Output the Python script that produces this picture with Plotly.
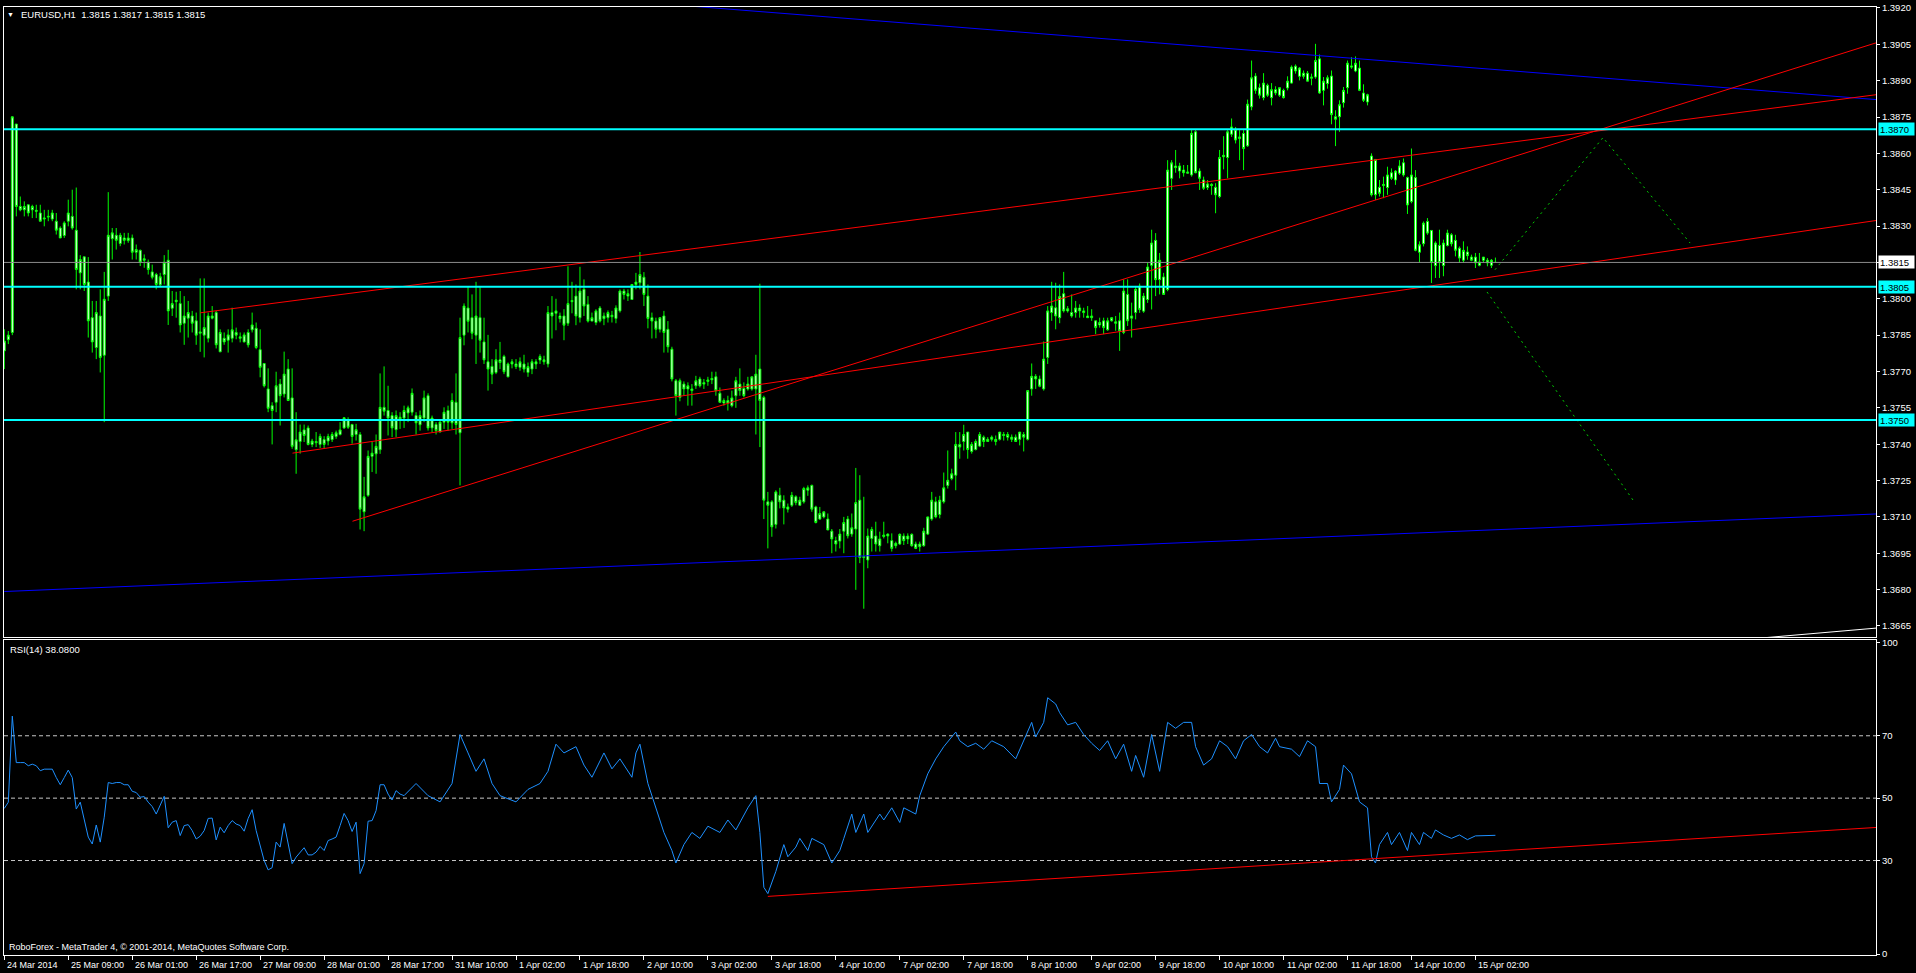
import plotly.graph_objects as go

# ---------------- DATA ----------------
# EURUSD H1 candles, values in pips above 1.3600
opens_p = [
178.5,183.1,186.1,272.1,238.1,236.7,238.8,236.7,236.5,235.4,
232.9,233.7,232.9,232.0,229.2,226.1,232.0,234.0,228.3,210.7,
217.3,206.9,192.2,179.9,192.9,176.7,201.1,224.8,226.2,222.8,
225.1,224.0,225.1,219.2,220.0,215.9,215.1,211.1,210.0,205.8,
210.0,215.9,196.1,198.8,198.0,189.9,192.0,192.9,190.9,185.8,
185.0,183.7,192.0,194.3,178.1,183.7,182.9,183.7,186.1,184.3,
182.2,186.1,187.2,187.8,179.0,173.3,162.8,155.9,157.3,164.8,
160.7,171.0,159.1,137.7,141.1,145.9,146.7,139.9,141.1,139.9,
141.9,141.3,141.9,143.2,144.0,146.7,149.8,148.1,144.0,144.0,
112.1,118.9,135.0,136.0,137.7,155.2,153.9,151.8,146.0,151.1,
150.8,152.9,153.2,151.8,148.0,150.8,160.0,146.7,148.1,145.0,
149.1,153.9,148.8,157.3,144.7,185.0,196.2,192.2,185.0,192.2,
182.2,174.0,172.1,169.6,174.8,176.2,167.8,173.1,173.1,171.7,
173.1,169.6,171.0,174.0,174.7,174.8,173.1,194.3,194.0,192.9,
192.9,189.9,198.8,201.1,192.2,203.9,197.7,190.8,190.2,196.2,
191.8,192.2,193.2,191.9,195.0,203.2,201.1,199.7,205.9,206.6,
208.9,201.1,192.2,190.8,187.4,192.9,187.4,179.2,166.2,159.3,
164.8,162.8,162.8,164.1,166.9,164.8,165.9,166.6,167.8,161.0,
157.0,158.0,155.9,160.0,164.8,163.0,162.8,162.8,162.8,171.0,
159.3,116.2,116.2,106.9,118.9,116.9,113.2,114.8,118.3,114.8,
116.2,121.0,123.0,114.1,109.1,110.0,109.1,104.1,100.2,100.0,
104.1,109.1,102.9,105.0,116.9,93.2,92.2,101.1,102.1,98.1,
101.9,102.9,100.2,98.1,98.8,102.1,100.9,102.8,98.8,97.7,
98.1,102.9,109.1,116.2,111.0,116.2,123.0,125.8,127.2,139.9,
141.1,145.0,137.0,137.8,139.2,142.9,141.1,142.0,142.0,142.0,
144.0,142.9,142.9,142.9,142.0,144.0,142.0,162.8,168.0,166.9,
162.8,175.8,194.3,196.3,192.2,202.1,195.0,194.3,194.3,196.2,
195.0,192.9,192.2,190.9,189.2,190.9,187.2,190.9,190.5,190.9,
186.1,201.8,192.0,194.3,205.2,194.9,199.7,213.8,224.1,207.9,
209.0,203.8,249.7,254.8,252.7,253.1,251.8,251.1,268.9,252.7,
249.0,245.9,247.2,246.0,242.2,258.6,258.3,267.9,269.6,266.1,
268.2,263.1,279.2,291.9,287.1,283.0,288.1,283.0,286.3,284.0,
286.0,287.0,289.0,296.0,291.8,293.1,293.1,291.0,291.5,299.0,
286.0,288.8,291.9,275.1,275.1,280.9,287.1,296.1,294.0,295.2,
284.9,281.2,258.9,242.9,246.0,246.7,245.9,252.0,249.0,251.8,
256.1,250.0,240.1,250.0,219.2,222.7,231.9,228.2,213.7,222.0,
213.7,222.0,226.4,224.1,220.9,215.9,219.3,217.2,217.2,213.8,
215.9,215.9,213.8,215.0]
highs_p = [
187.4,186.7,275.1,272.1,242.2,240.2,238.8,238.8,238.8,238.8,
236.7,236.7,236.7,235.4,229.9,232.0,240.9,245.0,245.9,218.0,
217.3,217.2,199.1,199.1,203.9,211.1,244.0,229.2,229.2,227.2,
227.2,227.2,226.5,222.4,220.3,218.3,216.2,214.1,210.7,210.7,
218.0,220.2,203.2,202.9,203.2,201.1,199.1,195.0,194.3,208.4,
208.4,194.3,197.0,195.0,187.4,186.1,187.4,196.3,188.1,186.1,
186.1,187.4,194.3,190.2,187.4,173.5,171.3,157.3,169.9,166.9,
178.2,175.1,171.3,153.2,148.1,148.1,147.7,142.2,145.0,144.3,
143.3,144.3,145.0,145.6,149.1,151.1,151.1,148.4,148.4,145.0,
126.5,137.4,140.9,144.0,169.2,172.1,164.1,153.2,153.9,153.2,
155.9,155.9,163.0,153.2,153.9,162.1,161.0,151.8,149.1,149.7,
155.2,155.9,161.0,169.2,192.2,198.1,205.2,201.8,207.0,204.8,
192.2,185.1,175.1,179.2,182.2,176.9,173.7,175.1,175.1,175.8,
176.9,173.7,175.1,175.1,177.1,176.5,197.0,201.1,200.0,194.3,
195.7,213.4,207.0,205.9,213.2,208.0,201.1,194.3,195.7,197.0,
194.3,195.2,195.0,197.3,203.9,204.1,203.9,205.9,210.7,219.3,
211.0,205.9,194.3,192.2,192.2,195.0,190.8,180.2,166.9,167.1,
165.9,165.5,164.8,168.2,167.8,166.9,167.8,169.9,169.9,163.4,
158.9,160.0,162.1,167.8,171.3,165.5,167.8,167.8,176.9,206.2,
160.0,120.3,116.9,121.0,122.0,118.9,115.5,120.3,118.9,118.3,
122.4,123.0,123.3,114.6,114.1,112.1,111.4,105.0,101.8,105.0,
110.0,110.4,111.4,130.2,127.2,118.3,105.2,105.9,108.0,103.9,
108.0,103.2,103.2,99.8,103.2,103.2,103.2,103.2,99.8,99.8,
105.5,110.0,120.3,118.3,118.7,128.3,137.4,129.9,145.0,145.0,
148.0,145.0,140.9,142.0,145.0,143.6,142.9,143.6,143.6,145.0,
145.0,145.0,144.0,144.0,145.0,145.0,162.1,173.3,168.9,168.3,
182.4,197.0,207.0,206.6,205.9,211.1,197.0,201.8,199.1,197.7,
196.3,197.0,195.7,190.9,192.2,192.2,192.2,192.2,192.9,194.3,
208.0,208.0,198.4,205.3,206.3,202.4,214.8,228.5,227.1,218.9,
210.7,257.2,257.2,261.4,256.1,255.2,255.2,269.6,269.6,253.8,
250.4,249.0,247.7,247.7,261.4,267.1,269.6,274.4,270.9,269.6,
269.6,282.2,298.3,293.1,288.8,293.1,288.8,289.0,287.7,287.1,
286.7,291.8,296.3,296.7,295.6,294.2,294.0,292.9,305.2,300.8,
291.5,292.2,294.2,277.8,281.9,287.4,298.3,299.7,300.0,298.3,
288.5,284.6,260.0,257.5,249.0,250.4,254.5,253.8,253.1,257.2,
257.9,250.4,262.0,253.1,223.7,231.9,233.3,228.2,223.7,228.5,
224.4,228.5,227.1,226.4,221.6,223.7,221.6,218.2,218.9,218.9,
217.2,216.8,216.4,217.0]
lows_p = [
171.0,181.3,185.0,234.0,236.1,234.0,234.0,233.3,233.3,232.0,
229.9,232.0,232.0,226.5,225.1,225.1,229.9,228.5,203.9,203.9,
203.2,184.0,177.8,175.1,169.6,149.1,199.1,216.2,220.3,221.7,
222.4,223.1,216.2,216.2,213.5,212.8,210.0,208.0,203.9,205.2,
205.9,189.2,192.9,192.2,186.1,181.0,184.0,186.1,181.0,178.1,
175.8,182.0,191.5,179.5,178.1,181.0,177.8,182.0,183.3,182.0,
182.0,179.9,186.1,179.2,167.6,163.4,153.2,139.9,153.2,147.7,
159.3,158.0,138.1,127.8,136.1,140.9,139.5,138.8,138.8,138.4,
138.4,139.5,140.9,142.2,143.6,146.3,146.3,140.2,141.5,104.8,
104.1,118.3,128.5,127.8,136.0,151.8,143.6,142.9,142.9,146.3,
146.7,149.1,151.8,144.0,145.6,149.1,145.6,145.0,144.0,145.0,
146.3,145.6,146.3,144.0,123.0,180.8,186.1,183.3,173.1,177.8,
173.1,162.1,164.8,168.9,171.0,168.9,167.6,171.3,171.0,170.3,
169.6,167.8,168.9,171.0,173.1,172.8,171.7,183.6,187.0,190.2,
182.9,188.8,194.0,189.1,190.2,192.9,190.2,190.8,189.1,190.2,
189.1,190.2,190.2,189.9,194.3,199.7,199.1,199.7,203.9,203.9,
197.0,187.8,183.6,183.7,186.1,177.8,177.8,165.9,151.8,157.7,
160.0,155.9,155.9,162.8,163.4,162.8,164.1,164.8,160.0,157.0,
155.9,153.9,155.2,155.0,160.0,159.3,162.1,162.1,144.0,138.8,
109.1,97.0,101.8,105.2,113.5,106.9,111.8,114.1,114.8,114.6,
115.5,118.7,112.1,107.3,108.7,109.4,104.6,95.0,95.7,97.0,
95.0,101.1,101.8,79.9,90.9,72.1,88.8,95.7,95.7,95.7,
101.1,99.1,95.7,97.0,98.4,98.4,98.8,97.7,96.7,95.7,
97.7,102.5,108.4,109.4,109.4,115.5,121.7,125.1,121.0,134.0,
137.4,134.0,136.1,137.4,138.8,138.8,140.9,141.1,139.5,141.5,
141.5,141.5,140.9,140.9,139.5,137.0,141.5,160.0,162.8,163.5,
162.1,173.1,190.9,187.4,189.9,194.3,194.3,192.2,192.2,192.2,
192.2,192.2,190.9,185.4,188.1,185.4,186.8,190.6,186.8,178.5,
185.4,188.8,184.0,191.5,194.2,194.2,198.3,195.6,201.1,201.8,
201.8,203.1,244.9,252.0,249.7,250.4,251.8,250.4,251.8,244.9,
244.9,244.9,242.9,235.3,241.5,253.4,249.7,266.8,264.1,257.2,
253.1,262.7,277.8,284.6,282.6,281.9,283.3,279.8,284.0,283.3,
282.6,286.0,288.8,292.9,290.1,290.8,289.7,288.1,290.8,284.6,
279.8,286.7,272.0,263.0,268.9,278.9,284.6,294.9,293.5,285.7,
281.2,279.8,242.2,240.8,242.2,241.5,242.9,249.0,247.0,251.1,
250.4,235.0,239.4,219.6,215.0,221.6,226.4,206.5,208.6,208.6,
209.3,221.6,221.6,217.5,214.8,214.8,216.1,215.5,212.7,213.4,
214.8,213.4,212.7,215.0]
closes_p = [
182.6,185.0,275.1,238.1,236.7,238.1,235.4,238.1,236.1,232.0,
233.3,234.0,235.4,228.3,225.1,231.3,235.4,229.2,212.1,216.2,
205.9,190.9,182.2,194.3,175.8,199.8,226.2,227.2,224.1,226.2,
224.1,225.1,219.2,220.3,215.1,216.5,212.1,208.9,205.9,209.1,
215.1,195.0,198.0,199.4,189.2,192.9,194.3,189.9,185.0,186.3,
188.1,192.9,192.9,181.0,186.1,182.2,185.1,187.2,185.0,183.7,
185.1,181.0,189.2,179.9,171.7,164.1,154.8,153.9,164.1,160.0,
168.9,158.0,139.1,141.8,145.0,143.6,139.9,141.3,140.6,143.2,
139.9,143.2,144.0,144.7,145.9,150.9,147.0,143.2,146.0,113.2,
118.3,135.0,136.3,139.1,155.2,153.6,150.8,146.7,151.8,150.2,
153.9,155.0,161.0,148.8,151.8,159.1,146.7,150.8,145.6,149.1,
153.2,149.1,158.0,148.1,184.0,197.0,190.7,185.8,192.9,182.9,
174.8,171.0,168.9,174.8,173.7,169.9,173.1,174.0,172.0,174.0,
171.0,172.0,174.0,173.1,176.2,174.0,194.3,192.9,195.0,191.8,
189.1,198.0,199.3,192.9,203.2,197.0,190.8,192.2,195.0,190.8,
192.9,194.3,192.6,196.2,203.2,201.8,202.1,205.9,206.9,210.0,
201.8,191.9,190.8,187.4,192.2,186.1,180.2,166.9,160.0,166.2,
162.8,164.1,162.1,166.2,164.1,165.4,166.5,167.1,162.1,157.3,
158.0,157.0,159.1,166.2,162.1,160.0,164.8,167.8,168.9,158.0,
116.9,114.8,105.9,120.3,116.2,113.7,114.1,118.9,115.9,116.9,
121.7,122.0,113.2,107.7,111.4,112.1,104.6,100.9,98.8,102.9,
107.7,102.2,105.5,115.9,93.2,93.6,102.1,104.8,98.8,100.9,
102.5,102.1,97.0,99.1,102.8,100.2,102.1,98.1,97.0,98.8,
104.1,110.0,116.9,110.0,116.9,122.0,125.1,127.8,139.9,138.8,
144.0,137.8,139.9,141.1,144.0,141.1,142.0,142.9,141.1,145.0,
143.6,144.0,142.0,141.1,145.0,142.9,162.1,168.0,166.9,163.9,
175.1,195.0,197.0,192.9,200.9,195.0,195.9,192.9,196.2,195.0,
194.3,192.2,192.9,188.1,190.2,188.1,190.9,192.2,189.9,186.8,
203.2,190.9,192.9,203.9,195.6,201.1,213.1,223.0,207.9,215.9,
201.8,253.1,256.1,254.1,254.8,252.0,252.3,268.2,252.0,249.7,
245.6,247.4,246.7,242.9,258.3,259.2,268.9,270.9,265.5,266.8,
262.0,280.3,291.2,286.0,284.0,289.0,284.0,286.3,284.9,287.1,
283.0,289.8,295.6,294.0,295.2,291.8,289.8,291.5,298.3,284.9,
289.8,291.2,276.0,274.1,280.1,286.0,297.2,295.6,297.2,286.0,
281.9,284.2,242.9,257.5,243.5,247.2,251.1,249.7,252.7,254.8,
251.1,238.7,251.1,220.0,222.3,231.2,227.1,215.0,223.0,215.0,
223.0,227.1,222.7,220.0,216.8,220.0,217.8,215.9,214.8,215.2,
217.2,214.8,215.9,215.0]

# RSI(14) line, read at bar positions
rsi_bar = list(range(100)) + [
100,103,106,109,112,114,116,118,120,122,124,128,131,134,136,138,140,143,145,147,
150,152,154,157,158,159,161,163,165,167,168,170,172,174,176,179,181,183,186,188,
189,190,191,193,195,196,198,199,201,202,205,207,209,210,212,213,215,216,219,220,
222,224,225,228,229,231,233,235,238,239,241,243,245,247,250,253,255,256,257,258,
260,261,263,264,266,268,270,272,274,276,278,280,282,283,285,287,289,291,293,295,
297,298,300,302,304,306,308,310,312,314,316,318,319,322,324,326,328,329,331,332,
334,335,337,339,341,342,343,344,346,347,349,351,352,354,355,357,358,360,362,364,
366,368,373]
rsi_val = [
46.7,48.7,76.3,61.4,61.4,61.4,60.4,60.9,60.4,58.8,
59.3,59.3,59.3,56.6,54.3,56.6,59.0,56.6,46.5,48.7,
42.8,37.5,35.3,41.4,35.9,43.9,55.0,54.7,55.0,55.0,
54.3,54.3,52.2,51.8,50.3,50.5,48.7,47.3,44.9,47.6,
50.6,40.5,42.3,42.8,38.0,41.2,41.5,39.6,36.9,37.8,
39.6,43.5,43.6,36.6,40.7,38.9,41.2,42.8,41.7,41.2,
39.4,43.5,46.3,39.6,34.3,30.0,27.0,27.7,35.9,34.3,
41.9,35.3,29.0,31.1,32.7,34.1,31.8,31.8,32.7,34.5,
33.2,36.4,36.9,37.5,41.2,45.1,42.8,39.3,42.3,25.8,
29.0,42.6,42.8,46.0,54.3,54.3,51.3,49.4,52.4,51.3,
50.8,54.7,50.8,48.8,54.7,70.4,64.5,58.6,62.6,54.7,50.8,48.8,52.8,54.7,58.6,67.3,64.5,66.5,60.6,56.7,
64.5,59.4,62.6,56.7,64.5,67.3,54.7,46.9,39.0,33.2,29.2,35.1,39.0,37.1,41.0,39.0,43.0,39.8,46.9,50.8,
39.0,21.4,19.4,26.5,35.1,31.2,34.3,37.1,33.2,37.1,35.1,29.2,33.2,37.1,44.9,39.0,44.9,39.0,44.9,43.0,
46.9,42.2,46.9,44.9,50.8,57.8,62.6,66.5,71.2,68.4,66.5,67.6,65.7,68.4,66.5,62.6,68.4,71.2,74.3,69.6,
74.3,82.2,80.2,77.4,73.5,74.3,70.4,67.6,65.3,68.4,62.6,67.3,58.6,63.7,56.7,70.4,58.6,74.3,72.4,74.3,
74.3,66.5,60.6,62.6,68.4,66.5,62.6,68.4,70.4,66.5,64.5,69.2,66.5,65.7,63.3,68.4,66.5,54.7,54.7,48.8,
52.8,60.6,57.8,48.8,46.9,31.2,29.2,35.1,39.0,35.1,39.0,33.2,39.0,35.1,39.0,37.1,39.8,38.2,37.1,38.2,
36.7,37.9,38.08]

# time axis labels (one every 16 bars)
tick_bars = [0,16,32,48,64,80,96,112,128,144,160,176,192,208,224,240,256,272,288,304,320,336,352,368]
tick_text = ["24 Mar 2014","25 Mar 09:00","26 Mar 01:00","26 Mar 17:00","27 Mar 09:00",
             "28 Mar 01:00","28 Mar 17:00","31 Mar 10:00","1 Apr 02:00","1 Apr 18:00",
             "2 Apr 10:00","3 Apr 02:00","3 Apr 18:00","4 Apr 10:00","7 Apr 02:00",
             "7 Apr 18:00","8 Apr 10:00","9 Apr 02:00","9 Apr 18:00","10 Apr 10:00",
             "11 Apr 02:00","11 Apr 18:00","14 Apr 10:00","15 Apr 02:00"]
price_ticks = [1.3665,1.3680,1.3695,1.3710,1.3725,1.3740,1.3755,1.3770,1.3785,1.3800,
               1.3815,1.3830,1.3845,1.3860,1.3875,1.3890,1.3905,1.3920]
rsi_ticks = [0,30,50,70,100]

# chart objects
h_levels = [1.3870, 1.3805, 1.3750]
bid_price = 1.3815
# trendlines: (bar0, price0, bar1, price1)
blue_lines = [(0, 1.39431, 468.2, 1.38822), (0, 1.36792, 468.2, 1.37112)]
red_lines = [(87.1, 1.37082, 468.2, 1.39056), (72.1, 1.37363, 468.2, 1.38323),
             (49.0, 1.37942, 468.2, 1.38842)]
white_line = (400, 1.36544, 468.2, 1.36641)
proj1_x = [372.9, 399.9, 421.7]
proj1_y = [1.38120, 1.38665, 1.38230]
proj2_x = [370.9, 407.9]
proj2_y = [1.38028, 1.37158]
rsi_trend = (191, 18.5, 468.2, 40.6)
rsi_levels = [70, 50, 30]

# ---------------- FIGURE ----------------
BASE = 1.36
to_price = lambda arr: [round(BASE + v / 10000.0, 5) for v in arr]
o, h, l, c = to_price(opens_p), to_price(highs_p), to_price(lows_p), to_price(closes_p)
bars = list(range(len(o)))

FONT = "Liberation Sans, Arial, sans-serif"
LIME = "#00FF00"
fig = go.Figure()

fig.add_trace(go.Candlestick(
    x=bars, open=o, high=h, low=l, close=c, xaxis="x", yaxis="y",
    increasing=dict(line=dict(color=LIME, width=1), fillcolor="#FFFFFF"),
    decreasing=dict(line=dict(color=LIME, width=1), fillcolor="#FFFFFF"),
    whiskerwidth=0, hoverinfo="none", showlegend=False))

for (x0, y0, x1, y1) in blue_lines:
    fig.add_trace(go.Scatter(x=[x0, x1], y=[y0, y1], mode="lines", xaxis="x", yaxis="y",
                             line=dict(color="#0000FF", width=1), hoverinfo="skip"))
for (x0, y0, x1, y1) in red_lines:
    fig.add_trace(go.Scatter(x=[x0, x1], y=[y0, y1], mode="lines", xaxis="x", yaxis="y",
                             line=dict(color="#FF0000", width=1), hoverinfo="skip"))
fig.add_trace(go.Scatter(x=[white_line[0], white_line[2]], y=[white_line[1], white_line[3]],
                         mode="lines", xaxis="x", yaxis="y",
                         line=dict(color="#FFFFFF", width=1), hoverinfo="skip"))
fig.add_trace(go.Scatter(x=proj1_x, y=proj1_y, mode="lines", xaxis="x", yaxis="y",
                         line=dict(color="#00D000", width=1, dash="2px,4px"), hoverinfo="skip"))
fig.add_trace(go.Scatter(x=proj2_x, y=proj2_y, mode="lines", xaxis="x", yaxis="y",
                         line=dict(color="#00D000", width=1, dash="2px,4px"), hoverinfo="skip"))

# RSI
fig.add_trace(go.Scatter(x=rsi_bar, y=rsi_val, mode="lines", xaxis="x2", yaxis="y2",
                         line=dict(color="#1E90FF", width=1), hoverinfo="skip"))
fig.add_trace(go.Scatter(x=[rsi_trend[0], rsi_trend[2]], y=[rsi_trend[1], rsi_trend[3]],
                         mode="lines", xaxis="x2", yaxis="y2",
                         line=dict(color="#FF0000", width=1), hoverinfo="skip"))

shapes = []
for lv in h_levels:
    shapes.append(dict(type="line", xref="x domain", x0=0, x1=1, yref="y", y0=lv, y1=lv,
                       line=dict(color="#00FFFF", width=2), layer="above"))
shapes.append(dict(type="line", xref="x domain", x0=0, x1=1, yref="y", y0=bid_price, y1=bid_price,
                   line=dict(color="#8C8C8C", width=1), layer="above"))
for lv in rsi_levels:
    shapes.append(dict(type="line", xref="x2 domain", x0=0, x1=1, yref="y2", y0=lv, y1=lv,
                       line=dict(color="#C8C8C8", width=1, dash="4px,3px"), layer="below"))

annotations = []
for lv in h_levels:
    annotations.append(dict(xref="paper", x=1, xanchor="left", xshift=2, yref="y", y=lv,
                            yanchor="middle", text="%.4f" % lv, showarrow=False,
                            bgcolor="#00FFFF", font=dict(color="#000000", size=9.5, family=FONT),
                            width=33, height=10, borderpad=1, align="left"))
annotations.append(dict(xref="paper", x=1, xanchor="left", xshift=2, yref="y", y=bid_price,
                        yanchor="middle", text="%.4f" % bid_price, showarrow=False,
                        bgcolor="#FFFFFF", font=dict(color="#000000", size=9.5, family=FONT),
                        width=33, height=10, borderpad=1, align="left"))
for b, t in zip(tick_bars, tick_text):
    annotations.append(dict(xref="x2", x=b, xanchor="left", xshift=1, yref="paper", y=0,
                            yanchor="top", yshift=-3, text=t, showarrow=False,
                            font=dict(color="#FFFFFF", size=9, family=FONT)))
annotations.append(dict(xref="paper", x=0.0037, xanchor="center", yref="paper", y=0.9921,
                        yanchor="middle", text="▼", showarrow=False,
                        font=dict(color="#FFFFFF", size=7, family=FONT)))
annotations.append(dict(xref="paper", x=0.0080, xanchor="left", yref="paper", y=0.9921,
                        yanchor="middle", text="EURUSD,H1  1.3815 1.3817 1.3815 1.3815",
                        showarrow=False, font=dict(color="#FFFFFF", size=9.5, family=FONT)))
annotations.append(dict(xref="paper", x=0.0021, xanchor="left", yref="paper", y=0.3225,
                        yanchor="middle", text="RSI(14) 38.0800",
                        showarrow=False, font=dict(color="#FFFFFF", size=9.5, family=FONT)))
annotations.append(dict(xref="paper", x=0.0016, xanchor="left", yref="paper", y=0.0084,
                        yanchor="middle",
                        text="RoboForex - MetaTrader 4, © 2001-2014, MetaQuotes Software Corp.",
                        showarrow=False, font=dict(color="#FFFFFF", size=9, family=FONT)))

axis_common = dict(showgrid=False, zeroline=False, showline=True, mirror=True,
                   linecolor="#FFFFFF", linewidth=1, fixedrange=True)
fig.update_layout(
    width=1916, height=973,
    margin=dict(l=3, r=40, t=3, b=18),
    paper_bgcolor="#000000", plot_bgcolor="#000000",
    showlegend=False, hovermode=False,
    xaxis=dict(domain=[0, 1], anchor="y", range=[-0.075, 468.2], showticklabels=False,
               ticks="", rangeslider=dict(visible=False), **axis_common),
    xaxis2=dict(domain=[0, 1], anchor="y2", matches="x", range=[-0.075, 468.2],
                showticklabels=False, ticks="outside", ticklen=4, tickcolor="#FFFFFF",
                tickvals=tick_bars, **axis_common),
    yaxis=dict(domain=[0.3351, 1], anchor="x", side="right", range=[1.36603, 1.39204],
               tickvals=price_ticks, ticktext=["%.4f" % p for p in price_ticks],
               ticks="outside", ticklen=3, tickcolor="#FFFFFF",
               tickfont=dict(color="#FFFFFF", size=9.5, family=FONT), **axis_common),
    yaxis2=dict(domain=[0, 0.3319], anchor="x2", side="right", range=[-0.3, 100.6],
                tickvals=rsi_ticks, ticks="outside", ticklen=3, tickcolor="#FFFFFF",
                tickfont=dict(color="#FFFFFF", size=9.5, family=FONT), **axis_common),
    shapes=shapes, annotations=annotations,
)

fig.write_html("out.html", config={"displayModeBar": False, "staticPlot": True}, post_script=(
    "document.body.style.margin='0px';document.body.style.padding='0px';"
    "document.body.style.overflow='hidden';document.body.style.background='#000';"))
